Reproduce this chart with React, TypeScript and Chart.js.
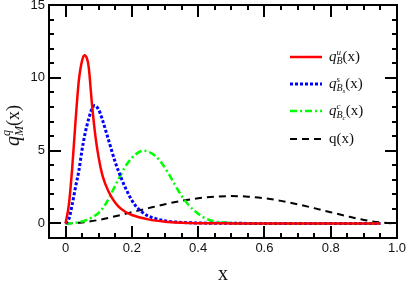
import { useEffect, useRef } from "react";
import { Chart, registerables } from "chart.js";

Chart.register(...registerables);

// ---- data ----
const xTickValues = [0, 0.2, 0.4, 0.6, 0.8, 1.0];
const yTickValues = [0, 5, 10, 15];

const quX = [0, 0.01, 0.02, 0.03, 0.04, 0.05, 0.057, 0.065, 0.07, 0.08, 0.09, 0.1, 0.11, 0.12, 0.14, 0.16, 0.18, 0.2, 0.25, 0.3, 0.35, 0.4, 0.45, 0.5, 0.6, 0.7, 0.8, 0.9, 0.95];
const quY = [0, 1.3, 3.8, 7.0, 9.8, 11.2, 11.55, 11.3, 10.7, 8.1, 6.0, 4.5, 3.4, 2.7, 1.75, 1.15, 0.8, 0.58, 0.28, 0.12, 0.05, 0.02, 0.01, 0, 0, 0, 0, 0, 0];

const qsX = [0, 0.01, 0.02, 0.03, 0.04, 0.05, 0.06, 0.07, 0.08, 0.088, 0.1, 0.11, 0.13, 0.15, 0.17, 0.19, 0.21, 0.23, 0.25, 0.28, 0.3, 0.35, 0.4, 0.5, 0.6, 0.7, 0.8, 0.9, 0.95];
const qsY = [0, 0.3, 1.3, 2.5, 3.6, 5.1, 6.3, 7.2, 7.9, 8.1, 7.8, 7.2, 5.7, 4.2, 3.0, 2.0, 1.25, 0.8, 0.5, 0.28, 0.18, 0.07, 0.03, 0.01, 0, 0, 0, 0, 0];

const qcX = [0, 0.02, 0.04, 0.06, 0.08, 0.1, 0.12, 0.14, 0.16, 0.18, 0.2, 0.22, 0.235, 0.25, 0.27, 0.29, 0.31, 0.33, 0.35, 0.37, 0.39, 0.41, 0.43, 0.45, 0.5, 0.55, 0.6, 0.7, 0.8, 0.9, 0.95];
const qcY = [0, 0.02, 0.09, 0.2, 0.42, 0.72, 1.3, 2.15, 3.05, 3.9, 4.5, 4.88, 5.0, 4.92, 4.65, 4.15, 3.45, 2.65, 1.9, 1.3, 0.85, 0.5, 0.27, 0.14, 0.03, 0, 0, 0, 0, 0, 0];

const qX = [0, 0.05, 0.1, 0.15, 0.2, 0.25, 0.3, 0.35, 0.4, 0.45, 0.5, 0.55, 0.6, 0.65, 0.7, 0.75, 0.8, 0.85, 0.9, 0.95, 1.0];
const qY = [0, 0.07, 0.24, 0.49, 0.77, 1.05, 1.32, 1.55, 1.73, 1.84, 1.88, 1.84, 1.73, 1.55, 1.32, 1.05, 0.77, 0.49, 0.24, 0.07, 0];

const SERIF = "'Liberation Serif', 'Times New Roman', serif";
const SANS = "'Liberation Sans', Arial, sans-serif";

type Seg = { t: string; font: string; dy?: number; stackWith?: Seg[] };

function drawRich(ctx: CanvasRenderingContext2D, x: number, y: number, segs: Seg[][]) {
  let cx = x;
  for (const group of segs) {
    let maxW = 0;
    for (const s of group) {
      ctx.font = s.font;
      ctx.fillText(s.t, cx, y + (s.dy || 0));
      let w = ctx.measureText(s.t).width;
      if (s.stackWith) {
        let sx = cx + w;
        for (const n of s.stackWith) {
          ctx.font = n.font;
          ctx.fillText(n.t, sx, y + (n.dy || 0));
          sx += ctx.measureText(n.t).width;
        }
        w = sx - cx;
      }
      maxW = Math.max(maxW, w);
    }
    cx += maxW;
  }
}

const decorPlugin = {
  id: "decor",
  afterDraw(chart: any) {
    const ctx: CanvasRenderingContext2D = chart.ctx;
    const a = chart.chartArea;
    const xs = chart.scales.x;
    const ys = chart.scales.y;
    const L = Math.round(a.left), R = Math.round(a.right), T = Math.round(a.top), B = Math.round(a.bottom);
    ctx.save();
    ctx.setLineDash([]);
    ctx.fillStyle = "#000";
    // frame (2px)
    ctx.fillRect(L - 1, T - 1, R - L + 2, 2);
    ctx.fillRect(L - 1, B - 1, R - L + 2, 2);
    ctx.fillRect(L - 1, T - 1, 2, B - T + 2);
    ctx.fillRect(R - 1, T - 1, 2, B - T + 2);
    // x ticks (inward, top and bottom)
    for (let i = 0; i <= 20; i++) {
      const px = Math.round(xs.getPixelForValue(i * 0.05));
      const len = i % 4 === 0 ? 12 : 5;
      ctx.fillRect(px - 1, B - len, 2, len);
      ctx.fillRect(px - 1, T, 2, len);
    }
    // y ticks (inward, left and right)
    for (let v = 0; v <= 15; v++) {
      const py = Math.round(ys.getPixelForValue(v));
      const len = v % 5 === 0 ? 12 : 5;
      ctx.fillRect(L, py - 1, len, 2);
      ctx.fillRect(R - len, py - 1, len, 2);
    }

    // legend
    const lx0 = 290, lx1 = 322, tx = 329;
    const rows = [57, 84, 111, 139];
    const styles = [
      { c: "#ff0000", w: 2.5, d: [] as number[] },
      { c: "#0000ff", w: 3, d: [3, 2] },
      { c: "#00ff00", w: 2.5, d: [7, 3, 2, 3] },
      { c: "#000000", w: 2, d: [7, 5] },
    ];
    rows.forEach((ry, i) => {
      const s = styles[i];
      ctx.beginPath();
      ctx.strokeStyle = s.c;
      ctx.lineWidth = s.w;
      ctx.setLineDash(s.d);
      ctx.moveTo(lx0, ry);
      ctx.lineTo(lx1, ry);
      ctx.stroke();
    });
    ctx.setLineDash([]);
    ctx.fillStyle = "#111";
    ctx.textBaseline = "alphabetic";
    ctx.textAlign = "left";
    const fMain = `italic 15px ${SERIF}`;
    const fSup = `italic 9px ${SERIF}`;
    const fSub = `italic 10px ${SERIF}`;
    const fSub2 = `italic 7px ${SERIF}`;
    const fPar = `15px ${SERIF}`;
    drawRich(ctx, tx, rows[0] + 4, [
      [{ t: "q", font: fMain }],
      [{ t: "u", font: fSup, dy: -6 }, { t: "B", font: fSub, dy: 3 }],
      [{ t: "(x)", font: fPar }],
    ]);
    drawRich(ctx, tx, rows[1] + 4, [
      [{ t: "q", font: fMain }],
      [{ t: "s", font: fSup, dy: -6 }, { t: "B", font: fSub, dy: 3, stackWith: [{ t: "s", font: fSub2, dy: 5 }] }],
      [{ t: "(x)", font: fPar }],
    ]);
    drawRich(ctx, tx, rows[2] + 4, [
      [{ t: "q", font: fMain }],
      [{ t: "c", font: fSup, dy: -6 }, { t: "B", font: fSub, dy: 3, stackWith: [{ t: "c", font: fSub2, dy: 5 }] }],
      [{ t: "(x)", font: fPar }],
    ]);
    drawRich(ctx, tx, rows[3] + 4, [[{ t: "q(x)", font: fPar }]]);

    // x title
    ctx.font = `20px ${SERIF}`;
    ctx.textAlign = "center";
    ctx.fillText("x", (a.left + a.right) / 2, 280);

    // y title
    ctx.save();
    ctx.translate(19, 146);
    ctx.rotate(-Math.PI / 2);
    ctx.textAlign = "left";
    drawRich(ctx, 0, 0, [
      [{ t: "q", font: `italic 20px ${SERIF}` }],
      [{ t: "q", font: `italic 12px ${SERIF}`, dy: -9 }, { t: "M", font: `italic 12px ${SERIF}`, dy: 4 }],
      [{ t: "(x)", font: `18px ${SERIF}` }],
    ]);
    ctx.restore();
    ctx.restore();
  },
};

function pts(xs: number[], ys: number[]) {
  return xs.map((x, i) => ({ x, y: ys[i] }));
}

export default function App() {
  const ref = useRef<HTMLCanvasElement | null>(null);
  useEffect(() => {
    document.body.style.margin = "0";
    const canvas = ref.current;
    if (!canvas) return;
    const common = { pointRadius: 0, fill: false, cubicInterpolationMode: "monotone" as const };
    const chart = new Chart(canvas, {
      type: "line",
      data: {
        datasets: [
          { ...common, label: "u", data: pts(quX, quY), borderColor: "#ff0000", borderWidth: 2.5 },
          { ...common, label: "s", data: pts(qsX, qsY), borderColor: "#0000ff", borderWidth: 3, borderDash: [3, 2] },
          { ...common, label: "c", data: pts(qcX, qcY), borderColor: "#00ff00", borderWidth: 2.5, borderDash: [7, 3, 2, 3] },
          { ...common, label: "q", data: pts(qX, qY), borderColor: "#000000", borderWidth: 2, borderDash: [7, 5] },
        ],
      },
      options: {
        responsive: false,
        maintainAspectRatio: false,
        animation: false,
        events: [],
        layout: { padding: { top: 5, right: 10, left: 0, bottom: 0 } },
        plugins: { legend: { display: false }, tooltip: { enabled: false } },
        scales: {
          x: {
            type: "linear",
            min: -0.05,
            max: 1.0,
            grid: { display: false, drawTicks: false },
            border: { display: false },
            afterBuildTicks: (s: any) => {
              s.ticks = xTickValues.map((v) => ({ value: v }));
            },
            afterFit: (s: any) => {
              s.height = 44;
              s.paddingLeft = 0;
              s.paddingRight = 0;
            },
            ticks: {
              autoSkip: false,
              maxRotation: 0,
              padding: 3,
              color: "#111",
              font: { family: SANS, size: 13 },
              callback: (v: any) => (Number(v) === 0 ? "0" : Number(v).toFixed(1)),
            },
          },
          y: {
            type: "linear",
            min: -1,
            max: 15,
            grid: { display: false, drawTicks: false },
            border: { display: false },
            afterBuildTicks: (s: any) => {
              s.ticks = yTickValues.map((v) => ({ value: v }));
            },
            afterFit: (s: any) => {
              s.width = 49;
              s.paddingTop = 0;
              s.paddingBottom = 0;
            },
            ticks: {
              autoSkip: false,
              padding: 4,
              color: "#111",
              font: { family: SANS, size: 13 },
              callback: (v: any) => String(v),
            },
          },
        },
      },
      plugins: [decorPlugin],
    });
    return () => chart.destroy();
  }, []);
  return (
    <div style={{ position: "absolute", left: 0, top: 0, width: 407, height: 282 }}>
      <canvas ref={ref} width={407} height={282} style={{ display: "block" }} />
    </div>
  );
}
